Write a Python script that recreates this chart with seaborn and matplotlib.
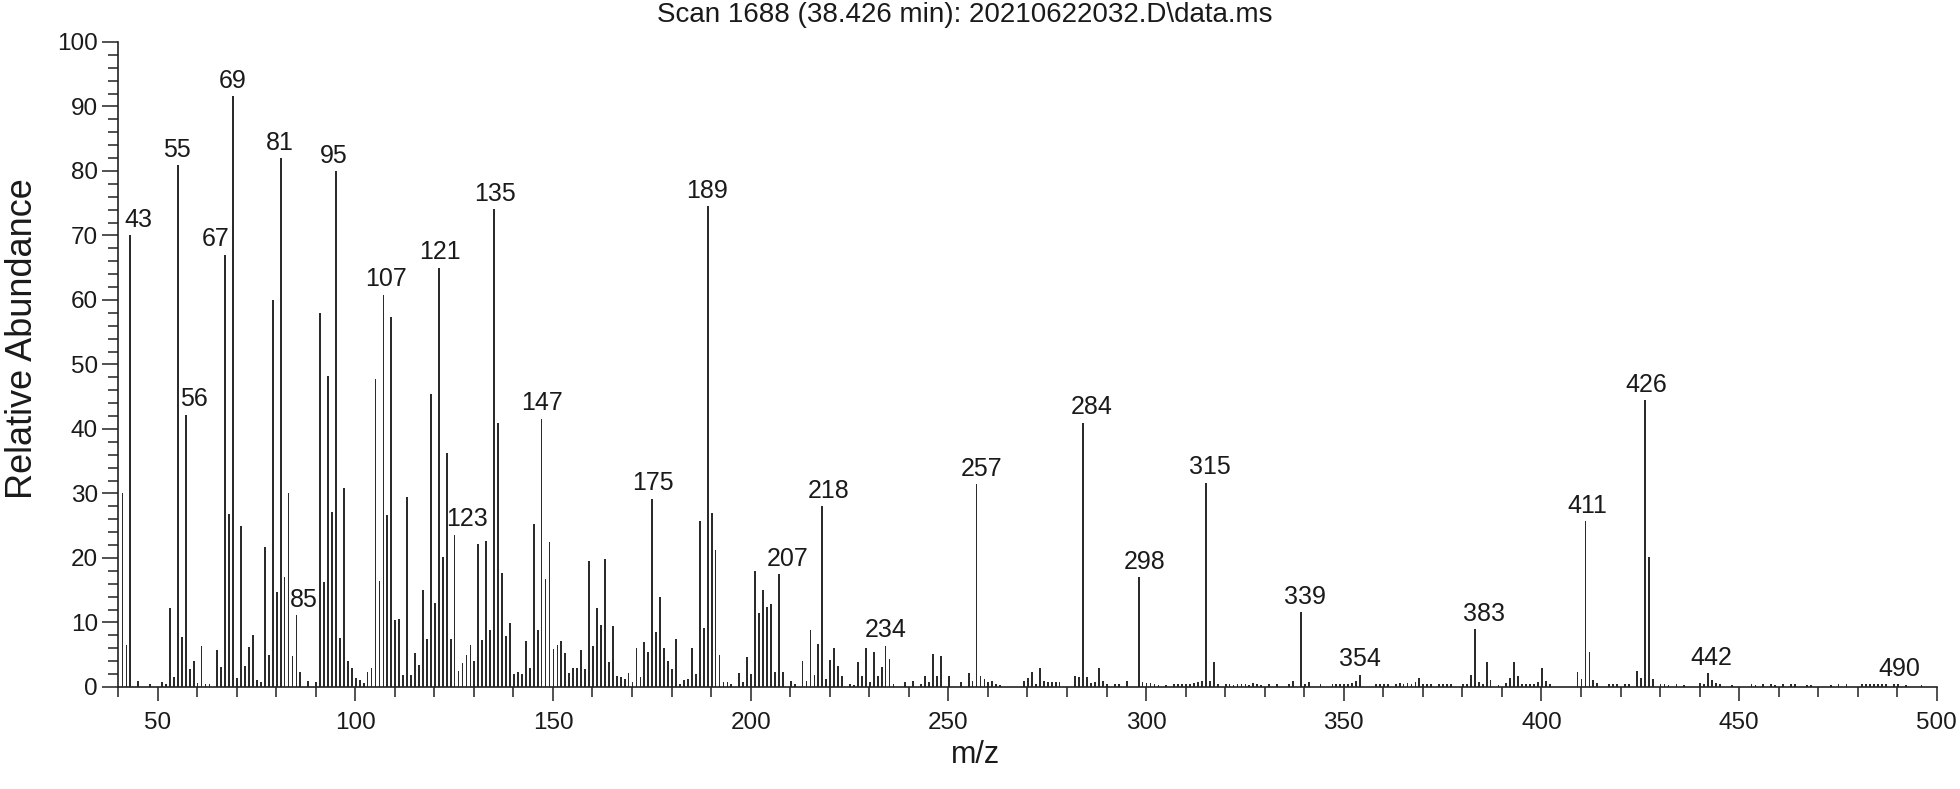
import pandas as pd
import numpy as np
import matplotlib
matplotlib.use("Agg")
import matplotlib.pyplot as plt
import seaborn as sns
from matplotlib.ticker import MultipleLocator

# peaks (m/z, relative abundance)
mz = [
    41, 42, 43, 45, 48, 51, 52, 53, 54, 55,
    56, 57, 58, 59, 60, 61, 62, 63, 65, 66,
    67, 68, 69, 70, 71, 72, 73, 74, 75, 76,
    77, 78, 79, 80, 81, 82, 83, 84, 85, 86,
    88, 90, 91, 92, 93, 94, 95, 96, 97, 98,
    99, 100, 101, 102, 103, 104, 105, 106, 107, 108,
    109, 110, 111, 112, 113, 114, 115, 116, 117, 118,
    119, 120, 121, 122, 123, 124, 125, 126, 127, 128,
    129, 130, 131, 132, 133, 134, 135, 136, 137, 138,
    139, 140, 141, 142, 143, 144, 145, 146, 147, 148,
    149, 150, 151, 152, 153, 154, 155, 156, 157, 158,
    159, 160, 161, 162, 163, 164, 165, 166, 167, 168,
    169, 170, 171, 172, 173, 174, 175, 176, 177, 178,
    179, 180, 181, 182, 183, 184, 185, 186, 187, 188,
    189, 190, 191, 192, 193, 194, 195, 197, 198, 199,
    200, 201, 202, 203, 204, 205, 206, 207, 208, 210,
    211, 213, 214, 215, 216, 217, 218, 219, 220, 221,
    222, 223, 225, 226, 227, 228, 229, 230, 231, 232,
    233, 234, 235, 236, 239, 241, 243, 244, 245, 246,
    247, 248, 250, 253, 255, 256, 257, 258, 259, 260,
    261, 262, 263, 269, 270, 271, 272, 273, 274, 275,
    276, 277, 278, 282, 283, 284, 285, 286, 287, 288,
    289, 290, 292, 293, 295, 298, 299, 300, 301, 302,
    303, 305, 307, 308, 309, 310, 311, 312, 313, 314,
    315, 316, 317, 318, 320, 321, 322, 323, 324, 325,
    326, 327, 328, 329, 331, 333, 336, 337, 339, 340,
    341, 344, 347, 348, 349, 350, 351, 352, 353, 354,
    358, 359, 360, 361, 363, 364, 365, 366, 367, 368,
    369, 370, 371, 372, 374, 375, 376, 377, 380, 381,
    382, 383, 384, 385, 386, 387, 389, 391, 392, 393,
    394, 395, 396, 397, 398, 399, 400, 401, 402, 409,
    410, 411, 412, 413, 414, 417, 418, 419, 421, 422,
    424, 425, 426, 427, 428, 430, 431, 432, 434, 436,
    440, 441, 442, 443, 444, 445, 448, 453, 454, 456,
    458, 459, 461, 463, 464, 467, 468, 473, 475, 477,
    481, 482, 483, 484, 485, 486, 487, 489, 490, 492,
    496,
]
abundance = [
    30.0, 6.5, 70.0, 1.0, 0.4, 0.7, 0.4, 12.3, 1.5, 80.9,
    7.8, 42.2, 2.8, 4.0, 0.6, 6.4, 0.4, 0.4, 5.7, 3.1,
    67.0, 26.8, 91.6, 1.4, 25.0, 3.3, 6.2, 8.0, 1.1, 0.8,
    21.7, 4.9, 60.0, 14.7, 82.0, 17.1, 30.0, 4.8, 11.1, 2.3,
    1.0, 0.7, 58.0, 16.2, 48.2, 27.2, 80.0, 7.6, 30.9, 4.0,
    3.0, 1.4, 1.1, 0.6, 2.3, 3.0, 47.8, 16.5, 60.8, 26.6,
    57.4, 10.4, 10.6, 1.9, 29.5, 1.8, 5.3, 3.4, 15.0, 7.4,
    45.5, 13.0, 65.0, 20.2, 36.3, 7.5, 23.6, 2.5, 3.7, 4.9,
    6.5, 4.0, 22.1, 7.3, 22.6, 8.8, 74.1, 41.0, 17.7, 7.9,
    9.9, 2.0, 2.3, 2.0, 7.2, 3.0, 25.2, 8.8, 41.6, 16.8,
    22.5, 5.9, 6.5, 7.2, 5.2, 2.2, 3.0, 3.0, 5.8, 2.8,
    19.5, 6.4, 12.3, 9.6, 19.8, 3.8, 9.4, 1.7, 1.5, 1.2,
    2.1, 0.8, 6.0, 1.6, 7.0, 5.5, 29.2, 8.5, 14.0, 6.0,
    4.0, 2.8, 7.5, 0.5, 1.1, 1.2, 6.0, 2.0, 25.8, 9.2,
    74.5, 27.0, 21.2, 5.0, 0.8, 0.8, 0.5, 2.2, 0.8, 4.6,
    2.0, 18.0, 11.5, 15.0, 12.4, 12.9, 2.4, 17.5, 2.4, 1.0,
    0.5, 4.1, 1.0, 8.8, 1.8, 6.7, 28.0, 1.2, 4.2, 6.0,
    3.3, 1.7, 0.5, 0.3, 3.9, 1.7, 6.0, 0.8, 5.4, 1.7,
    3.1, 6.4, 4.3, 0.5, 0.7, 0.9, 0.5, 1.7, 0.7, 5.1,
    1.7, 4.8, 1.7, 0.7, 2.1, 0.9, 31.4, 1.7, 1.3, 0.8,
    0.9, 0.5, 0.3, 0.9, 1.4, 2.3, 0.5, 3.0, 0.9, 0.7,
    0.7, 0.7, 0.7, 1.7, 1.6, 41.0, 1.6, 0.6, 0.8, 3.0,
    0.9, 0.5, 0.4, 0.4, 1.0, 17.0, 0.7, 0.6, 0.6, 0.4,
    0.3, 0.3, 0.4, 0.4, 0.4, 0.5, 0.5, 0.6, 0.8, 1.0,
    31.7, 0.9, 3.8, 0.5, 0.4, 0.4, 0.3, 0.4, 0.4, 0.4,
    0.3, 0.6, 0.5, 0.3, 0.5, 0.4, 0.5, 0.9, 11.6, 0.5,
    0.8, 0.4, 0.4, 0.4, 0.4, 0.5, 0.5, 0.6, 0.9, 1.9,
    0.4, 0.4, 0.4, 0.4, 0.4, 0.6, 0.5, 0.6, 0.5, 0.7,
    1.4, 0.4, 0.5, 0.4, 0.4, 0.4, 0.4, 0.4, 0.5, 0.5,
    1.9, 9.0, 0.8, 0.5, 3.9, 1.1, 0.3, 0.6, 1.4, 3.9,
    1.7, 0.4, 0.4, 0.4, 0.4, 0.7, 2.9, 1.0, 0.4, 2.3,
    1.3, 25.7, 5.5, 1.1, 0.6, 0.4, 0.4, 0.4, 0.4, 0.4,
    2.5, 1.4, 44.5, 20.2, 1.3, 0.4, 0.4, 0.3, 0.4, 0.3,
    0.6, 0.5, 2.1, 1.1, 0.6, 0.4, 0.3, 0.4, 0.3, 0.4,
    0.4, 0.3, 0.4, 0.4, 0.4, 0.3, 0.3, 0.3, 0.4, 0.4,
    0.4, 0.4, 0.4, 0.5, 0.5, 0.4, 0.4, 0.4, 0.4, 0.3,
    0.3,
]

# peak labels: text and the bar it sits over
label_text = ["43", "55", "56", "67", "69", "81", "85", "95", "107", "121",
              "123", "135", "147", "175", "189", "207", "218", "234", "257",
              "284", "298", "315", "339", "354", "383", "411", "426", "442", "490"]
label_mz = [43, 55, 57, 67, 69, 81, 85, 95, 107, 121,
            125, 135, 147, 175, 189, 207, 218, 234, 257,
            284, 298, 315, 339, 354, 383, 411, 426, 442, 490]
# small sideways nudges of the labels (points)
label_dx = [6, 0, 6.5, -6.5, 0, 0, 6, -1.5, 2, 1,
            9, 1, 1, 1, 0, 6.5, 5, 0.5, 4.3,
            6.5, 5, 3.6, 3.6, 0, 7, 2, 1.5, 3, 1.5]

title = "Scan 1688 (38.426 min): 20210622032.D\\data.ms"

sns.set_theme(style="ticks")
plt.rcParams["font.family"] = ["Liberation Sans", "DejaVu Sans"]

df = pd.DataFrame({"mz": mz, "abundance": abundance})

fig = plt.figure(figsize=(19.6, 7.89), dpi=100)
ax = fig.add_axes([0.0602, 0.1293, 0.928, 0.8175])

# stick spectrum: one thin bar per m/z
sns.histplot(data=df, x="mz", weights="abundance", discrete=True,
             shrink=0.2, color="#2b2b2b", alpha=1,
             edgecolor="#2b2b2b", linewidth=0.7, antialiased=False, ax=ax)

ax.set_xlim(40, 500)
ax.set_ylim(0, 100)
ax.xaxis.set_major_locator(MultipleLocator(50))
ax.xaxis.set_minor_locator(MultipleLocator(10))
ax.yaxis.set_major_locator(MultipleLocator(10))
ax.yaxis.set_minor_locator(MultipleLocator(2))

sns.despine(ax=ax)
for side in ["left", "bottom"]:
    ax.spines[side].set_color("#222222")
    ax.spines[side].set_linewidth(1.2)

ax.tick_params(axis="both", which="both", direction="out", color="#222222",
               width=1.1, labelsize=17.5, labelcolor="#1a1a1a")
ax.tick_params(axis="y", which="major", length=11.5, pad=3)
ax.tick_params(axis="y", which="minor", length=7.5)
ax.tick_params(axis="x", which="major", length=10, pad=8)
ax.tick_params(axis="x", which="minor", length=7.5)

ax.set_xlabel("m/z", fontsize=22, color="#1a1a1a")
ax.set_ylabel("Relative Abundance", fontsize=26, color="#1a1a1a")
ax.xaxis.set_label_coords(0.4717, -0.082)
ax.yaxis.set_label_coords(-0.043, 0.54)

peak = dict(zip(mz, abundance))
for txt, m, dx in zip(label_text, label_mz, label_dx):
    ax.annotate(txt, xy=(m, peak[m]), xytext=(dx, 6), textcoords="offset points",
                ha="center", va="baseline", fontsize=18, color="#1a1a1a")

fig.text(0.492, 0.981, title, ha="center", va="center", fontsize=20, color="#1a1a1a")

fig.savefig("out.png", dpi=100)
